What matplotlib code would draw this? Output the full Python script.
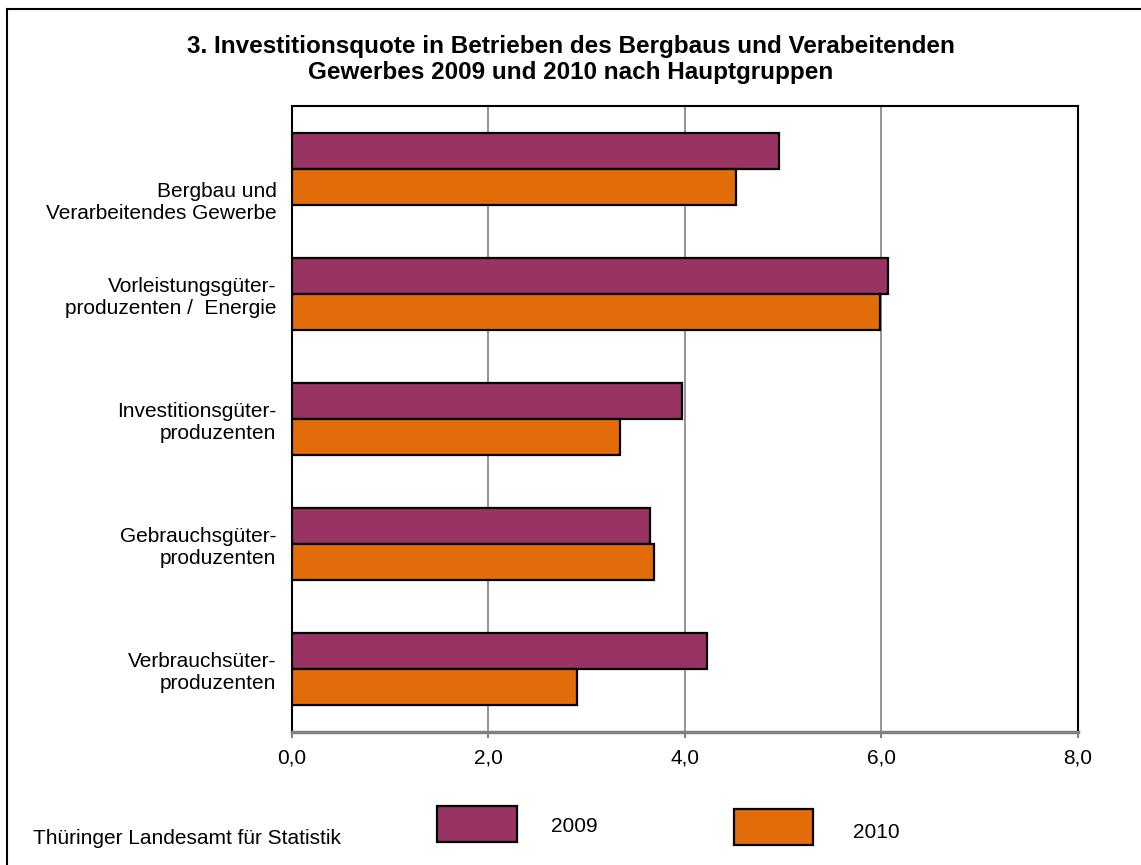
import numpy as np
import matplotlib
matplotlib.use("Agg")
import matplotlib.pyplot as plt
from matplotlib.patches import Rectangle
from matplotlib.lines import Line2D
from matplotlib.transforms import ScaledTranslation

plt.rcParams["font.family"] = ["Liberation Sans", "DejaVu Sans"]

# Data
categories = [
    "Bergbau und\nVerarbeitendes Gewerbe",
    "Vorleistungsgüter-\nproduzenten /  Energie",
    "Investitionsgüter-\nproduzenten",
    "Gebrauchsgüter-\nproduzenten",
    "Verbrauchsüter-\nproduzenten",
]
years = ["2009", "2010"]
quote_2009 = [4.96, 6.07, 3.97, 3.65, 4.23]
quote_2010 = [4.52, 5.99, 3.34, 3.69, 2.90]
x_ticks = [0, 2, 4, 6, 8]

col_2009 = "#983363"
col_2010 = "#E36C0A"


def main():
    W, H = 1141, 865
    fig = plt.figure(figsize=(W / 100, H / 100), dpi=100)
    ax = fig.add_axes([291.7 / W, 1 - 732 / H, (1078 - 291.7) / W, 626 / H])

    y = np.arange(len(categories))
    h = 0.2875

    ax.barh(y - h / 2, quote_2009, height=h, color=col_2009,
            edgecolor="black", linewidth=1.6, zorder=3)
    ax.barh(y + h / 2, quote_2010, height=h, color=col_2010,
            edgecolor="black", linewidth=1.6, zorder=3)

    ax.set_xlim(0, 8)
    ax.set_ylim(len(categories) - 0.5, -0.5)
    ax.set_xticks(x_ticks)
    ax.set_xticklabels([f"{v:.1f}".replace(".", ",") for v in x_ticks], fontsize=15)
    ax.set_yticks(y)
    ax.set_yticklabels(categories, fontsize=15, ha="right", multialignment="right")

    ax.tick_params(axis="y", length=0, pad=11)
    ax.tick_params(axis="x", length=4, width=1.5, color="#808080", pad=8)

    # first label sits a bit lower in the original
    lbl = ax.get_yticklabels()[0]
    lbl.set_transform(lbl.get_transform() + ScaledTranslation(0, -0.30, fig.dpi_scale_trans))

    ax.grid(axis="x", color="#808080", linewidth=1.2, zorder=0)
    for s in ["left", "top", "right"]:
        ax.spines[s].set_color("black")
        ax.spines[s].set_linewidth(1.5)
    ax.spines["bottom"].set_color("#808080")
    ax.spines["bottom"].set_linewidth(2.5)

    fig.text(0.5, 1 - 59.5 / H,
             "3. Investitionsquote in Betrieben des Bergbaus und Verabeitenden\n"
             "Gewerbes 2009 und 2010 nach Hauptgruppen",
             ha="center", va="center", fontsize=17.5, fontweight="bold", linespacing=1.12)

    # Legend
    for (x0, x1, y0, y1), c, lab, tx, ty in [
        ((437, 517, 806, 842), col_2009, years[0], 551, 826),
        ((734, 813, 809, 845), col_2010, years[1], 853, 832),
    ]:
        fig.add_artist(Rectangle((x0 / W, 1 - y1 / H), (x1 - x0) / W, (y1 - y0) / H,
                                 facecolor=c, edgecolor="black", linewidth=1.6,
                                 transform=fig.transFigure))
        fig.text(tx / W, 1 - ty / H, lab, ha="left", va="center", fontsize=15)

    fig.text(33 / W, 1 - 838 / H, "Thüringer Landesamt für Statistik",
             ha="left", va="center", fontsize=15)

    # Outer frame (only top and left visible)
    fig.add_artist(Line2D([7 / W, 7 / W], [0, 1 - 9 / H], color="black",
                          linewidth=1.5, transform=fig.transFigure))
    fig.add_artist(Line2D([7 / W, 1], [1 - 9 / H, 1 - 9 / H], color="black",
                          linewidth=1.5, transform=fig.transFigure))

    fig.savefig("out.png", dpi=100)


if __name__ == "__main__":
    main()
